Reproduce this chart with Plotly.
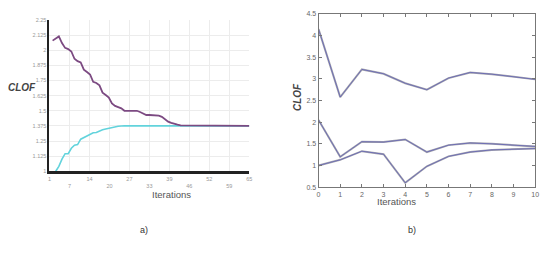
import plotly.graph_objects as go

# ---- panel a) data ----
a_purple_x = [2, 3, 4, 5, 6, 7, 8, 9, 10, 11, 12, 13, 14, 15, 16, 17, 18, 19, 20, 21, 22, 23, 24, 25,
              26, 27, 28, 29, 30, 31, 32, 33, 34, 35, 36, 37, 38, 39, 40, 41, 42, 43, 44, 45, 50, 65]
a_purple_y = [2.08, 2.10, 2.115, 2.06, 2.02, 2.01, 1.99, 1.93, 1.91, 1.90, 1.84, 1.82, 1.80, 1.74, 1.73,
              1.71, 1.65, 1.63, 1.61, 1.56, 1.54, 1.53, 1.52, 1.50, 1.50, 1.50, 1.50, 1.50, 1.49, 1.48,
              1.465, 1.465, 1.465, 1.465, 1.46, 1.45, 1.43, 1.41, 1.40, 1.39, 1.385, 1.38, 1.38, 1.378,
              1.376, 1.375]
a_cyan_x = [3, 4, 5, 6, 7, 8, 9, 10, 11, 12, 13, 14, 15, 16, 17, 18, 19, 20, 21, 22, 23, 24, 25, 65]
a_cyan_y = [1.0, 1.04, 1.10, 1.145, 1.145, 1.19, 1.215, 1.22, 1.265, 1.28, 1.29, 1.31, 1.318, 1.32,
            1.335, 1.343, 1.35, 1.357, 1.363, 1.37, 1.372, 1.374, 1.375, 1.375]
a_xticks = [1, 7.4, 13.8, 20.2, 26.6, 33, 39.4, 45.8, 52.2, 58.6, 65]
a_xlabels = ["1", "7", "14", "20", "27", "33", "39", "46", "52", "59", "65"]
a_yticks = [1, 1.125, 1.25, 1.375, 1.5, 1.625, 1.75, 1.875, 2, 2.125, 2.25]
a_ylabels = ["1", "1.125", "1.25", "1.375", "1.5", "1.625", "1.75", "1.875", "2", "2.125", "2.25"]

# ---- panel b) data ----
b_x = [0, 1, 2, 3, 4, 5, 6, 7, 8, 9, 10]
b_s1 = [4.15, 2.58, 3.22, 3.12, 2.90, 2.75, 3.02, 3.15, 3.11, 3.05, 2.99]
b_s2 = [2.05, 1.20, 1.55, 1.54, 1.60, 1.31, 1.47, 1.52, 1.50, 1.47, 1.44]
b_s3 = [1.00, 1.13, 1.33, 1.26, 0.60, 0.98, 1.21, 1.31, 1.36, 1.38, 1.39]
b_yticks = [0.5, 1, 1.5, 2, 2.5, 3, 3.5, 4, 4.5]
b_ylabels = ["0.5", "1", "1.5", "2", "2.5", "3", "3.5", "4", "4.5"]

fig = go.Figure()

fig.add_trace(go.Scatter(x=a_cyan_x, y=a_cyan_y, mode="lines", line=dict(color="#62d3dc", width=1.6),
                         xaxis="x", yaxis="y", showlegend=False))
fig.add_trace(go.Scatter(x=a_purple_x, y=a_purple_y, mode="lines", line=dict(color="#7c4a82", width=1.8),
                         xaxis="x", yaxis="y", showlegend=False))

for s in (b_s1, b_s2, b_s3):
    fig.add_trace(go.Scatter(x=b_x, y=s, mode="lines", line=dict(color="#a8a8ae", width=2.0),
                             xaxis="x2", yaxis="y2", showlegend=False))
    fig.add_trace(go.Scatter(x=b_x, y=s, mode="lines", line=dict(color="#4848b8", width=0.6),
                             xaxis="x2", yaxis="y2", showlegend=False))

ticktext_a = [lab if i % 2 == 0 else "<br>" + lab for i, lab in enumerate(a_xlabels)]

fig.update_layout(
    width=555, height=254, margin=dict(l=0, r=0, t=0, b=0),
    paper_bgcolor="white", plot_bgcolor="white",
    font=dict(family="Liberation Sans, Arial", color="#333"),
    xaxis=dict(domain=[0.0865, 0.4505], range=[1, 65], tickmode="array", tickvals=a_xticks,
               ticktext=ticktext_a, tickfont=dict(size=5.5, color="#999"), showgrid=True,
               gridcolor="#ececec", gridwidth=1, showline=True, linecolor="#222", linewidth=3,
               zeroline=False, ticks="", anchor="y"),
    yaxis=dict(domain=[0.3228, 0.935], range=[1, 2.25], tickmode="array", tickvals=a_yticks,
               ticktext=a_ylabels, tickfont=dict(size=5.5, color="#999"), showgrid=True,
               gridcolor="#ececec", gridwidth=1, showline=True, linecolor="#222", linewidth=2,
               zeroline=False, ticks="", anchor="x"),
    xaxis2=dict(domain=[0.5766, 0.9712], range=[0, 10], tickmode="array", tickvals=b_x,
                tickfont=dict(size=7, color="#666"), showgrid=False, showline=True, mirror="ticks",
                linecolor="#777", linewidth=1, ticks="inside", ticklen=3, tickcolor="#777",
                zeroline=False, anchor="y2"),
    yaxis2=dict(domain=[0.2587, 0.9594], range=[0.5, 4.5], tickmode="array", tickvals=b_yticks,
                ticktext=b_ylabels, tickfont=dict(size=7, color="#666"), showgrid=False, showline=True,
                mirror="ticks", linecolor="#777", linewidth=1, ticks="inside", ticklen=3,
                tickcolor="#777", zeroline=False, anchor="x2"),
)

fig.add_annotation(text="<i><b>CLOF</b></i>", x=0.008, xanchor="left", y=0.66, xref="paper", yref="paper",
                   showarrow=False, font=dict(size=10, color="#444"))
fig.add_annotation(text="Iterations", x=0.27, y=0.2, xref="paper", yref="paper",
                   showarrow=False, font=dict(size=9.5, color="#555"))
fig.add_annotation(text="<i><b>CLOF</b></i>", x=0.538, y=0.625, xref="paper", yref="paper",
                   showarrow=False, textangle=-90, font=dict(size=10, color="#444"))
fig.add_annotation(text="Iterations", x=0.757, y=0.172, xref="paper", yref="paper",
                   showarrow=False, font=dict(size=9.5, color="#555"))
fig.add_annotation(text="a)", x=0.247, y=0.055, xref="paper", yref="paper",
                   showarrow=False, font=dict(size=9, color="#333"))
fig.add_annotation(text="b)", x=0.757, y=0.055, xref="paper", yref="paper",
                   showarrow=False, font=dict(size=9, color="#333"))

fig.write_html("out.html")
